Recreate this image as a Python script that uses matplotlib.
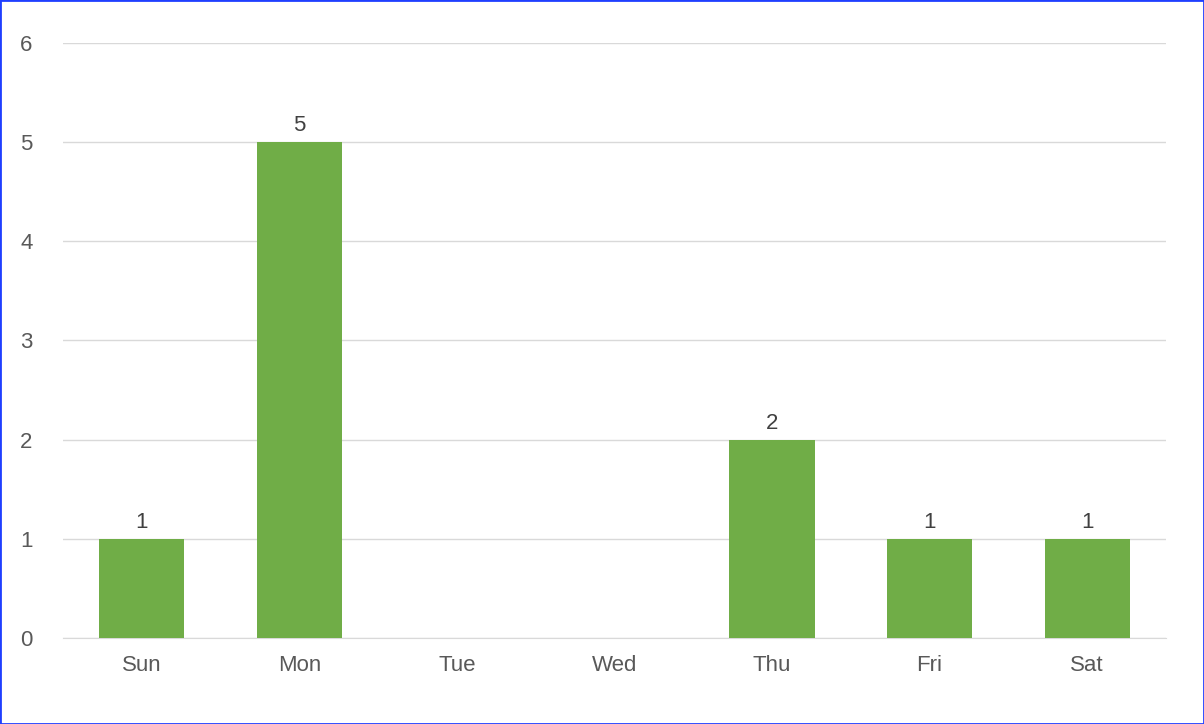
import matplotlib
matplotlib.use("Agg")
import matplotlib.pyplot as plt
from matplotlib.patches import Rectangle

days = ["Sun", "Mon", "Tue", "Wed", "Thu", "Fri", "Sat"]
counts = [1, 5, 0, 0, 2, 1, 1]

GREEN = "#70AD47"
GREY = "#595959"
GRID = "#D9D9D9"

plt.rcParams["font.family"] = ["Liberation Sans", "DejaVu Sans"]

fig = plt.figure(figsize=(12.04, 7.24), dpi=100)
ax = fig.add_axes([0.0523, 0.1188, 0.9161, 0.8218])
x = range(len(days))
bars = ax.bar(x, counts, width=0.54, color=GREEN, zorder=3)
for b, v in zip(bars, counts):
    if v:
        ax.text(b.get_x() + b.get_width() / 2, v + 0.06, str(v), ha="center",
                va="bottom", fontsize=16, color="#404040")

ax.set_xlim(-0.5, len(days) - 0.5)
ax.set_ylim(0, 6)
ax.set_yticks(range(7))
ax.set_xticks(list(x))
ax.set_xticklabels(days)
ax.tick_params(axis="both", length=0, labelsize=16, labelcolor=GREY)
ax.tick_params(axis="y", pad=22)
ax.tick_params(axis="x", pad=12)
ax.grid(axis="y", color=GRID, lw=1, zorder=0)
ax.spines[["top", "right", "left"]].set_visible(False)
ax.spines["bottom"].set_color(GRID)

fig.patches.append(Rectangle((0, 0), 1, 1, transform=fig.transFigure,
                             fill=False, edgecolor="#1F3FFF", lw=2))
fig.savefig("out.png", dpi=100)
